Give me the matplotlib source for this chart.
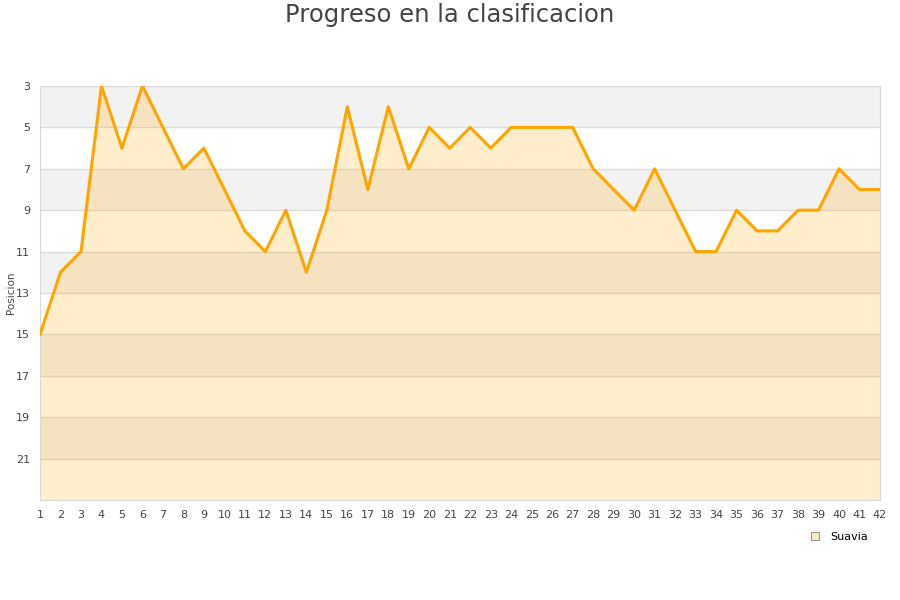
import numpy as np
import matplotlib.pyplot as plt
from matplotlib.lines import Line2D

# jornadas y posiciones
jornadas = list(range(1, 43))
posicion = [15, 12, 11, 3, 6, 3, 5, 7, 6, 8,
            10, 11, 9, 12, 9, 4, 8, 4, 7, 5,
            6, 5, 6, 5, 5, 5, 5, 7, 8, 9,
            7, 9, 11, 11, 9, 10, 10, 9, 9, 7,
            8, 8]
equipo = 'Suavia'
y_ticks = [3, 5, 7, 9, 11, 13, 15, 17, 19, 21]

fig = plt.figure(figsize=(9, 6), dpi=100)
ax = fig.add_axes([40/900, 1-500/600, 840/900, 414/600])

# bandas alternas de fondo
for y0 in range(3, 23, 4):
    ax.axhspan(y0, y0 + 2, color='#f2f2f2', zorder=0, lw=0)
for yt in y_ticks:
    ax.axhline(yt, color='#dcdcdc', lw=1, zorder=1)

ax.fill_between(jornadas, posicion, 23, color='#ffa500', alpha=0.2, lw=0, zorder=2)
ax.plot(jornadas, posicion, color='#ffa500', lw=2.2, zorder=3)

ax.set_xlim(1, 42)
ax.set_ylim(23, 3)
ax.set_xticks(jornadas)
ax.set_yticks(y_ticks)
ax.tick_params(length=0, labelsize=8, colors='#444444', pad=7)
for s in ['left', 'bottom', 'right']:
    ax.spines[s].set_color('#d9d9d9')
ax.spines['top'].set_visible(False)
ax.set_ylabel('Posicion', fontsize=7.5, color='#444444')
ax.yaxis.set_label_coords(-0.029, 0.5)

fig.suptitle('Progreso en la clasificacion', fontsize=17.5, color='#444444', y=0.995)

handle = Line2D([], [], marker='s', ls='', markersize=6,
                markerfacecolor='#fde8c4', markeredgecolor='#999999', markeredgewidth=0.8)
fig.legend([handle], [equipo], loc='center', bbox_to_anchor=(836/900, 1-537/600),
           frameon=False, fontsize=8, handletextpad=0.3, borderpad=0)

fig.savefig('out.png', dpi=100)
